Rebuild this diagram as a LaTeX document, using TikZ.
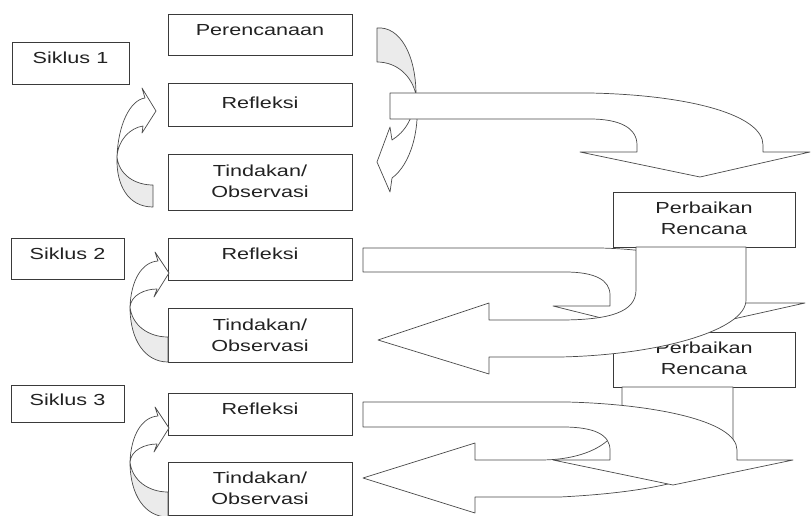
\documentclass[tikz,border=0pt]{standalone}
\usepackage{fontspec}
\newfontfamily\wfont[FakeStretch=1.35]{Liberation Sans}
\definecolor{linec}{HTML}{3A3A3A}
\definecolor{arrc}{HTML}{4A4A4A}
\definecolor{grayc}{HTML}{EBEBEB}
\definecolor{textc}{HTML}{222222}
\tikzset{
  boxst/.style={draw=linec, line width=1pt, fill=white, inner sep=0pt, anchor=north west},
  txt/.style={font=\wfont\fontsize{16}{20.5}\selectfont, text=textc, inner sep=0pt, anchor=north, align=center},
  blk/.style={draw=arrc, line width=0.7pt, fill=white, line join=round},
  blkg/.style={blk, fill=grayc},
}
\newcommand\mybox[5]{\node[boxst, minimum width=#4pt, minimum height=#5pt] (#1) at (#2,#3) {};}
\begin{document}
\begin{tikzpicture}[x=1pt,y=-1pt]
\useasboundingbox[fill=white] (0,0) rectangle (811,516);

% ---------- cycle 1 ----------
\mybox{s1}{12}{42}{117}{42}
\node[txt] (s1t) at (70.5,52) {Siklus 1};
\mybox{per}{168}{14}{184}{41}
\node[txt] (pert) at (260,24) {Perencanaan};
\mybox{r1}{168}{83}{184}{43}
\node[txt] (r1t) at (260,97) {Refleksi};
\mybox{t1}{168}{154}{184}{56}
\node[txt] (t1t) at (260,165) {Tindakan/\\Observasi};

% left curved arrow (Tindakan -> Refleksi)
\path[blkg] (117,157) .. controls (119,175) and (135,185) .. (153,185) -- (153,207)
  .. controls (128,207) and (116,185) .. (117,157) -- cycle;
\path[blk] (117,157) .. controls (118,125) and (130,100) .. (145,98) -- (142,88) -- (156,111)
  -- (142,133) -- (143,126) .. controls (130,128) and (118,140) .. (117,157) -- cycle;

% right curved arrow (Perencanaan -> Tindakan)
\path[blkg] (377,28) .. controls (400,26) and (416,55) .. (416,95)
  .. controls (412,76) and (397,62) .. (377,62) -- cycle;
\path[blk] (416,95) .. controls (421,130) and (410,165) .. (392,178) -- (390,192) -- (377,162)
  -- (390,127) -- (392,140) .. controls (405,132) and (414,118) .. (416,95) -- cycle;

% big arrow Refleksi 1 -> Perbaikan Rencana
\path[blk] (390,93) -- (590,93) .. controls (690,95) and (763,115) .. (763,145) -- (763,152)
  -- (810,152) -- (700,177) -- (580,152) -- (637,152) -- (637,145)
  .. controls (637,128) and (620,119) .. (590,119) -- (390,119) -- cycle;

% ---------- cycle 2 ----------
\mybox{s2}{11}{238}{113}{41}
\node[txt] (s2t) at (67.5,248) {Siklus 2};
\mybox{r2}{168}{238}{184}{42}
\node[txt] (r2t) at (260,248) {Refleksi};
\mybox{t2}{168}{308}{184}{54}
\node[txt] (t2t) at (260,319) {Tindakan/\\Observasi};

\path[blk] (130,307) .. controls (131,280) and (142,262) .. (158,261) -- (155,252) -- (169,273)
  -- (154,297) -- (157,289) .. controls (145,289) and (131,295) .. (130,307) -- cycle;
\path[blkg] (130,307) .. controls (132,325) and (148,337) .. (168,337) -- (168,362)
  .. controls (145,362) and (130,340) .. (130,307) -- cycle;

% arrow (a): Refleksi 2 -> right
\path[blk] (363,248) -- (600,248) .. controls (690,250) and (740,275) .. (740,303) -- (805,303)
  -- (666,334) -- (553,306) -- (610,306) -- (610,295)
  .. controls (610,280) and (595,272) .. (565,272) -- (363,272) -- cycle;

\mybox{pr1}{613}{192}{182}{55}
\node[txt] (pr1t) at (704,202) {Perbaikan\\Rencana};
\mybox{pr2}{613}{332}{182}{55}
\node[txt] (pr2t) at (704,342) {Perbaikan\\Rencana};

% arrow (b): Perbaikan Rencana 1 -> Tindakan 2
\path[blk] (636,247) -- (636,290) .. controls (636,312) and (610,320) .. (560,320) -- (489,320)
  -- (489,303) -- (378,340) -- (489,374) -- (489,357) -- (560,357)
  .. controls (660,355) and (746,330) .. (746,300) -- (746,247) -- cycle;

% ---------- cycle 3 ----------
\mybox{s3}{11}{385}{113}{37}
\node[txt] (s3t) at (67.5,394) {Siklus 3};
\mybox{r3}{168}{393}{184}{42}
\node[txt] (r3t) at (260,403) {Refleksi};
\mybox{t3}{168}{462}{184}{53}
\node[txt] (t3t) at (260,472) {Tindakan/\\Observasi};

\begin{scope}[shift={(0,155)}]
\path[blk] (130,307) .. controls (131,280) and (142,262) .. (158,261) -- (155,252) -- (169,273)
  -- (154,297) -- (157,289) .. controls (145,289) and (131,295) .. (130,307) -- cycle;
\path[blkg] (130,307) .. controls (132,325) and (148,337) .. (168,337) -- (168,362)
  .. controls (145,362) and (130,340) .. (130,307) -- cycle;
\end{scope}

% arrow (d): Perbaikan Rencana 2 -> Tindakan 3
\path[blk] (622,387) -- (622,410) .. controls (622,440) and (590,460) .. (540,460) -- (475,460)
  -- (475,443) -- (363,478) -- (475,513) -- (475,497) -- (560,497)
  .. controls (660,492) and (733,475) .. (733,440) -- (733,387) -- cycle;

% arrow (c): Refleksi 3 -> right
\path[blk] (363,402) -- (567,402) .. controls (650,404) and (737,420) .. (737,450) -- (737,460)
  -- (793,460) -- (673,485) -- (553,460) -- (610,460) -- (610,450)
  .. controls (610,435) and (595,427) .. (563,427) -- (363,427) -- cycle;
\end{tikzpicture}
\end{document}
